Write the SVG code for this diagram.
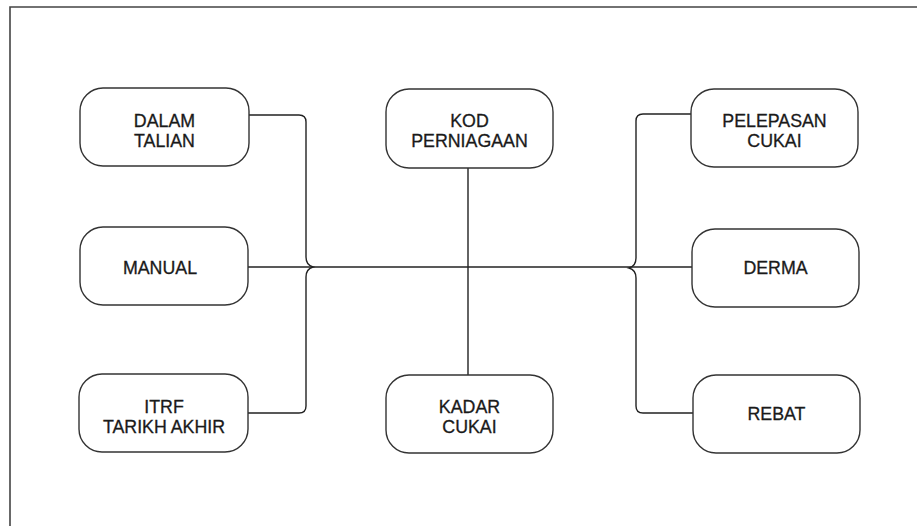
<svg xmlns="http://www.w3.org/2000/svg" width="917" height="526" viewBox="0 0 917 526">
<style>
.box{fill:#fff;stroke:#333;stroke-width:1.4}
.ln{fill:none;stroke:#222;stroke-width:1.4}
.frame{fill:none;stroke:#444;stroke-width:1.6}
text{font-family:"Liberation Sans",Arial,sans-serif;font-size:17.8px;fill:#1a1a1a;stroke:#1a1a1a;stroke-width:0.3;text-anchor:middle}
</style>
<rect width="917" height="526" fill="#fff"/>
<path class="frame" d="M10,526 V7 H917"/>
<g id="connectors">
<path class="ln" d="M249,115 H299 Q306,115 306,122 V257 Q306,265 313,267 Q306,269 306,277 V406 Q306,413 299,413 H248"/>
<path class="ln" d="M248,267 H692"/>
<path class="ln" d="M468,168 V375"/>
<path class="ln" d="M691,114 H643 Q636,114 636,121 V258 Q636,266 629,268 Q636,270 636,278 V406 Q636,413 643,413 H693"/>
</g>
<g id="dalam-talian">
<rect class="box" x="80" y="88" width="169" height="78" rx="23"/>
<text x="164.5" y="127">DALAM</text>
<text x="164.5" y="147">TALIAN</text>
</g>
<g id="manual">
<rect class="box" x="80" y="227" width="168" height="78" rx="23"/>
<text x="160" y="274">MANUAL</text>
</g>
<g id="itrf">
<rect class="box" x="79" y="374" width="169" height="78" rx="23"/>
<text x="164" y="413">ITRF</text>
<text x="164" y="433">TARIKH AKHIR</text>
</g>
<g id="kod-perniagaan">
<rect class="box" x="386" y="89" width="167" height="79" rx="23"/>
<text x="469.5" y="127">KOD</text>
<text x="469.5" y="147">PERNIAGAAN</text>
</g>
<g id="kadar-cukai">
<rect class="box" x="386" y="375" width="167" height="78" rx="23"/>
<text x="469.5" y="413">KADAR</text>
<text x="469.5" y="433">CUKAI</text>
</g>
<g id="pelepasan-cukai">
<rect class="box" x="691" y="89" width="167" height="78" rx="23"/>
<text x="774.5" y="127">PELEPASAN</text>
<text x="774.5" y="147">CUKAI</text>
</g>
<g id="derma">
<rect class="box" x="692" y="229" width="167" height="78" rx="23"/>
<text x="775.5" y="274">DERMA</text>
</g>
<g id="rebat">
<rect class="box" x="693" y="375" width="167" height="78" rx="23"/>
<text x="776.5" y="420">REBAT</text>
</g>
</svg>
